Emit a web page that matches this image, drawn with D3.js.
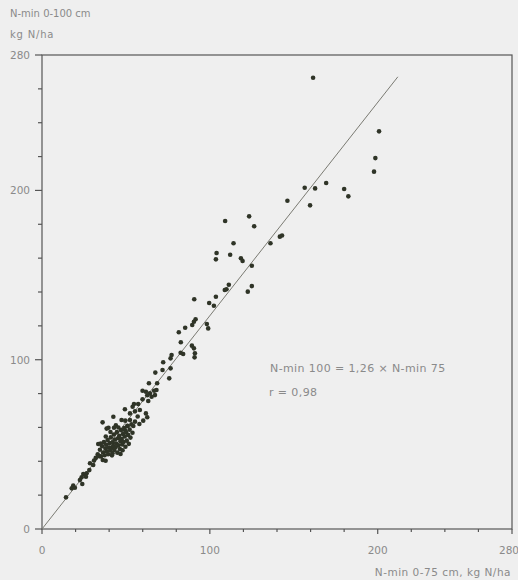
<!DOCTYPE html>
<html>
<head>
<meta charset="utf-8">
<script src="https://cdn.jsdelivr.net/npm/d3@7/dist/d3.min.js"></script>
<style>
  body { margin: 0; background: #efefef; }
  svg { display: block; }
  text { font-family: "DejaVu Sans", "Liberation Sans", sans-serif; fill: #8a8a8a; }
</style>
</head>
<body>
<div id="chart"></div>
<script>
// N-min 0-75 cm (x) vs N-min 0-100 cm (y), kg N/ha
const nmin75 = [
  161.5, 200.8, 198.6, 197.8, 156.5, 162.7, 169.3, 180, 182.5, 146.2, 159.7,
  109.1, 123.4, 126.4, 114.1, 104, 103.6, 112.1, 118.5, 119.5, 136.1, 141.7, 143, 125,
  125, 122.6, 111.3, 109.9, 108.9, 90.7, 103.6, 99.6, 102.4,
  98.2, 99, 91.5, 90.5, 89.5, 85.3, 81.5, 82.7, 82.6, 84.1,
  89.3, 90.5, 91.1, 90.9, 77.2, 76.6, 72.2, 71.8, 76.6, 67.5, 75.8, 63.7, 68.6,
  59.9, 61.9, 64.3, 66.8, 68.2, 62.7, 65.3, 67.3, 59.9, 63.3,
  54.8, 57.3, 54, 58.3, 55.4, 49.4, 52.4, 61.9, 62.7, 60.3,
  42.5, 36.1, 47.4, 49.6, 52.4, 55.4, 38.5, 42.9, 51, 54.4, 49.4, 57, 58,
  33.2, 34.5, 35.1, 35.8, 36.4, 36.9, 37.3, 37.8, 38.2, 38.6, 39.1, 39.4, 39.9, 40.3, 40.6,
  41.0, 41.3, 41.7, 42.1, 42.4, 42.8, 43.1, 43.5, 43.8, 44.2, 44.6, 44.9, 45.3, 45.6, 46.0,
  46.4, 46.7, 47.1, 47.5, 47.8, 48.2, 48.6, 49.0, 49.3, 49.7, 50.1, 50.5, 50.9, 51.3, 51.7,
  52.2, 52.7, 53.3, 53.9, 40.8, 38.0, 36.2, 44.0, 46.8, 42.0, 48.0, 35.0, 39.6, 45.5,
  33.5, 37.9,
  28.6, 30.5, 26.6, 24.6, 28.2, 22.6, 23.6, 18.6, 17.7, 14.3, 32, 31, 34, 26.2, 24, 19.6
];
const nmin100 = [
  266.6, 234.9, 219.1, 211.1, 201.6, 201.2, 204.4, 200.8, 196.5, 193.9, 191.2,
  181.9, 184.7, 178.8, 168.8, 163, 159.3, 162, 159.9, 158.3, 168.8, 172.7, 173.4, 155.5,
  143.5, 140.2, 144.3, 141.6, 141.2, 135.7, 137.2, 133.5, 131.9,
  121.1, 118.5, 123.9, 122.4, 120.5, 118.9, 116.2, 110.3, 104.1, 103.4,
  108.3, 106.7, 103.8, 101.4, 102.8, 100.8, 98.5, 93.9, 94.9, 92.4, 89, 86.1, 86.1,
  81.7, 81.1, 80.1, 81.7, 82.1, 79, 78.1, 79.1, 76.6, 75.6,
  73.8, 73.8, 72.2, 70.3, 69.5, 70.7, 68.3, 68.3, 66, 64,
  66.3, 63, 64.4, 64, 64.4, 63.4, 59.3, 59.8, 60.8, 60.8, 58.5, 66.5, 62,
  44.1, 46.8, 42.9, 48.9, 45.2, 51.3, 43.6, 47.5, 49.8, 45.9, 52.6, 44.2, 48.1, 50.7, 46.4,
  54.1, 47.9, 43.5, 51.2, 49.0, 55.8, 46.7, 52.9, 48.3, 50.5, 57.2, 45.1, 53.6, 49.4, 55.0,
  47.2, 51.8, 58.4, 53.1, 49.9, 56.1, 51.4, 59.6, 54.7, 48.6, 57.3, 52.2, 61.0, 55.6, 50.3,
  58.7, 54.0, 61.8, 56.9, 57.3, 54.6, 40.8, 61.2, 44.3, 44.8, 46.5, 50.5, 59.8, 60.0,
  50.2, 40.3,
  38.8, 37.8, 32.9, 32.5, 34.8, 28.9, 30.5, 25.6, 24, 18.7, 42, 40.5, 43, 30.9, 26.6, 24.4
];
const tickValues = [0, 100, 200, 280];
const slope = 1.26;
const lineEnd = 212;

const width = 518, height = 580;
const svg = d3.select('#chart').append('svg').attr('width', width).attr('height', height);

const x = d3.scaleLinear().domain([0, 280]).range([42, 512]);
const y = d3.scaleLinear().domain([0, 280]).range([529, 55]);
const minor = d3.range(0, 281, 20);

// frame
svg.append('rect')
  .attr('x', x(0)).attr('y', y(280))
  .attr('width', x(280) - x(0)).attr('height', y(0) - y(280))
  .attr('fill', 'none').attr('stroke', '#555').attr('stroke-width', 1.2);

// x ticks
svg.selectAll('line.xt').data(minor).enter().append('line')
  .attr('class', 'xt')
  .attr('x1', d => x(d)).attr('x2', d => x(d))
  .attr('y1', y(0)).attr('y2', d => y(0) + (tickValues.includes(d) ? 5 : 3))
  .attr('stroke', '#555').attr('stroke-width', 1.2);

// y ticks
svg.selectAll('line.yt').data(minor).enter().append('line')
  .attr('class', 'yt')
  .attr('y1', d => y(d)).attr('y2', d => y(d))
  .attr('x1', x(0)).attr('x2', d => x(0) - (tickValues.includes(d) ? 7 : 4))
  .attr('stroke', '#555').attr('stroke-width', 1.2);

svg.selectAll('text.xl').data(tickValues).enter().append('text')
  .attr('class', 'xl')
  .attr('x', d => d === 280 ? x(d) - 3 : x(d))
  .attr('y', 554)
  .attr('text-anchor', 'middle')
  .attr('font-size', '10.5px')
  .text(d => d);

svg.selectAll('text.yl').data(tickValues).enter().append('text')
  .attr('class', 'yl')
  .attr('x', 30)
  .attr('y', d => y(d) + 4)
  .attr('text-anchor', 'end')
  .attr('font-size', '10.5px')
  .text(d => d);

// regression line
svg.append('line')
  .attr('x1', x(0)).attr('y1', y(0))
  .attr('x2', x(lineEnd)).attr('y2', y(lineEnd * slope))
  .attr('stroke', '#7a7a72').attr('stroke-width', 1);

// points
svg.selectAll('circle.pt').data(nmin75).enter().append('circle')
  .attr('class', 'pt')
  .attr('cx', d => x(d))
  .attr('cy', (d, i) => y(nmin100[i]))
  .attr('r', 2.3)
  .attr('fill', '#2f3427');

// titles
svg.append('text').attr('x', 10).attr('y', 17).attr('font-size', '10px').text('N-min 0-100 cm');
svg.append('text').attr('x', 10).attr('y', 38).attr('font-size', '10px')
  .attr('letter-spacing', '0.8px').text('kg N/ha');
svg.append('text').attr('x', 511).attr('y', 576).attr('text-anchor', 'end')
  .attr('font-size', '10.5px').attr('letter-spacing', '0.5px').text('N-min 0-75 cm, kg N/ha');

svg.append('text').attr('x', 270).attr('y', 372).attr('font-size', '11px')
  .attr('letter-spacing', '0.4px')
  .text('N-min 100 = 1,26 × N-min 75');
svg.append('text').attr('x', 269).attr('y', 396).attr('font-size', '11px')
  .attr('letter-spacing', '0.4px')
  .text('r = 0,98');
</script>
</body>
</html>
